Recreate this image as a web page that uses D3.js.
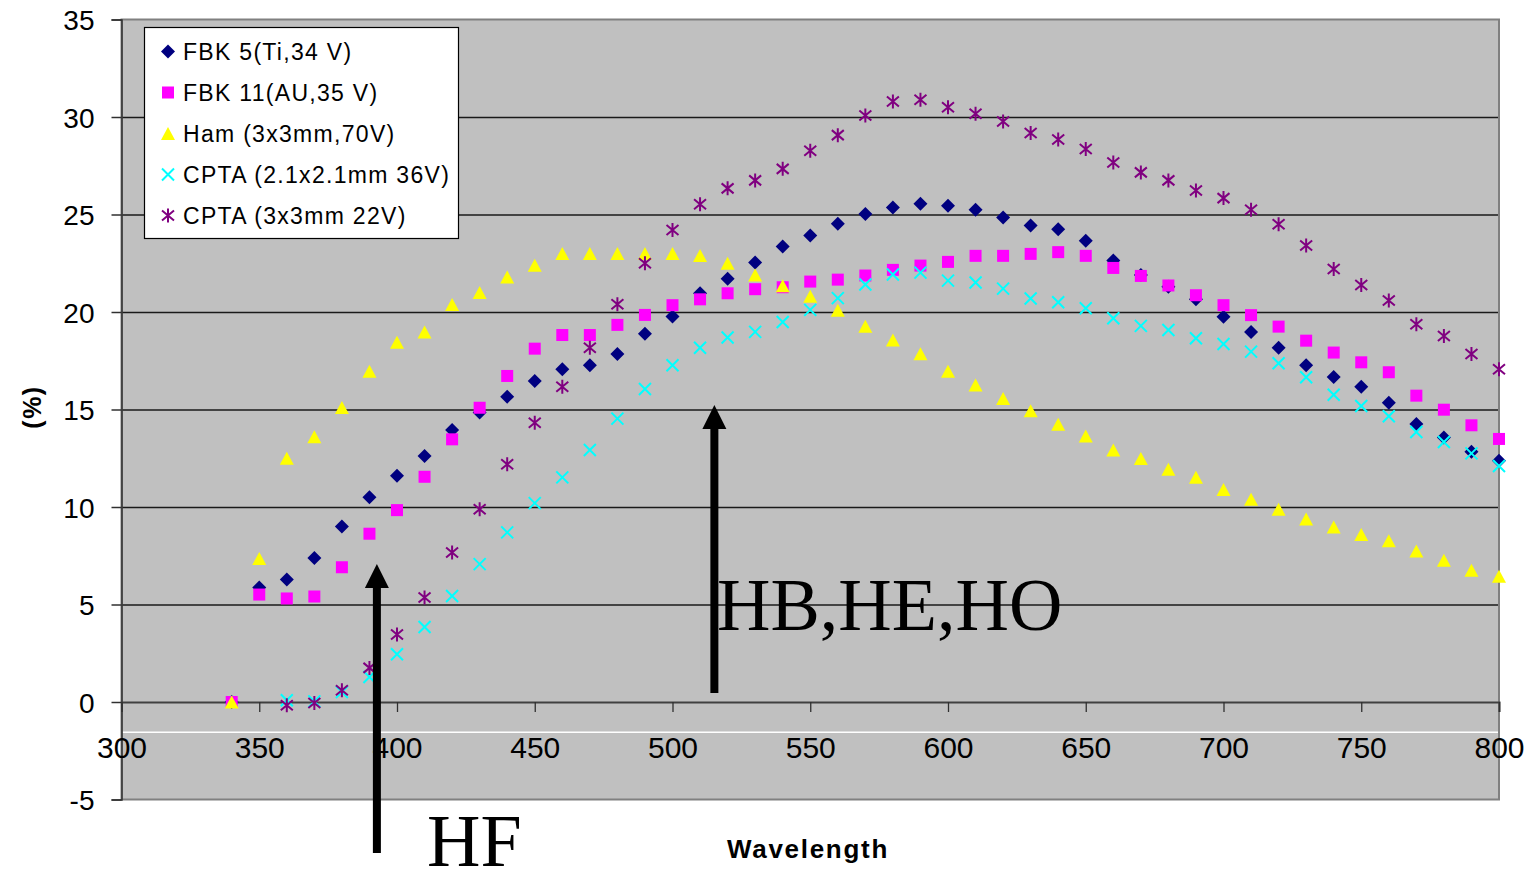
<!DOCTYPE html>
<html>
<head>
<meta charset="utf-8">
<script src="https://cdn.jsdelivr.net/npm/d3@7"></script>
<style>
  html, body { margin: 0; padding: 0; background: #ffffff; }
  svg { display: block; }
</style>
</head>
<body>
<svg id="chart" width="1532" height="870"></svg>
<script>
// Wavelength grid (nm)
const wavelengths = [340, 350, 360, 370, 380, 390, 400, 410, 420, 430, 440, 450, 460, 470, 480, 490,
  500, 510, 520, 530, 540, 550, 560, 570, 580, 590, 600, 610, 620, 630, 640, 650, 660, 670, 680, 690,
  700, 710, 720, 730, 740, 750, 760, 770, 780, 790, 800];

// Photon detection efficiency (%) per device
const fbk5 = [0, 5.87, 6.28, 7.38, 9.0, 10.5, 11.6, 12.61, 13.95, 14.84, 15.66, 16.46, 17.06, 17.27, 17.85, 18.88,
  19.77, 20.96, 21.7, 22.54, 23.36, 23.92, 24.52, 25.03, 25.36, 25.55, 25.45, 25.24, 24.85, 24.44, 24.25, 23.65,
  22.64, 21.9, 21.3, 20.66, 19.76, 18.98, 18.17, 17.27, 16.67, 16.17, 15.35, 14.26, 13.57, 12.83, 12.37];
const fbk11 = [0, 5.51, 5.31, 5.41, 6.91, 8.63, 9.84, 11.55, 13.47, 15.09, 16.72, 18.12, 18.82, 18.82, 19.34, 19.85,
  20.35, 20.65, 20.96, 21.17, 21.27, 21.56, 21.66, 21.87, 22.16, 22.38, 22.57, 22.88, 22.88, 22.98, 23.07, 22.88,
  22.26, 21.85, 21.36, 20.86, 20.35, 19.84, 19.25, 18.53, 17.92, 17.42, 16.91, 15.71, 14.99, 14.19, 13.49];
const ham = [0, 7.36, 12.5, 13.6, 15.1, 16.96, 18.45, 18.98, 20.38, 21.0, 21.8, 22.4, 23.0, 23.0, 23.0, 23.0,
  23.0, 22.9, 22.5, 21.9, 21.35, 20.81, 20.09, 19.27, 18.57, 17.86, 16.96, 16.26, 15.56, 14.94, 14.24, 13.64,
  12.92, 12.49, 11.93, 11.52, 10.9, 10.4, 9.89, 9.38, 8.98, 8.59, 8.27, 7.75, 7.27, 6.76, 6.45];
const cpta21 = [null, null, 0.09, 0.03, 0.51, 1.28, 2.45, 3.85, 5.44, 7.07, 8.7, 10.2, 11.52, 12.92, 14.53, 16.05,
  17.27, 18.17, 18.69, 18.98, 19.49, 20.11, 20.71, 21.41, 21.92, 22.02, 21.61, 21.51, 21.2, 20.69, 20.5, 20.19,
  19.68, 19.29, 19.08, 18.65, 18.36, 17.97, 17.37, 16.65, 15.76, 15.18, 14.65, 13.85, 13.33, 12.75, 12.1];
const cpta33 = [null, null, -0.17, -0.05, 0.6, 1.75, 3.46, 5.36, 7.67, 9.89, 12.19, 14.32, 16.17, 18.17, 20.4, 22.5,
  24.2, 25.53, 26.34, 26.75, 27.34, 28.27, 29.07, 30.08, 30.79, 30.89, 30.5, 30.17, 29.77, 29.18, 28.85, 28.36,
  27.67, 27.16, 26.75, 26.23, 25.84, 25.24, 24.5, 23.41, 22.21, 21.39, 20.59, 19.37, 18.77, 17.85, 17.06];

const seriesNames = ["FBK 5(Ti,34 V)", "FBK 11(AU,35 V)", "Ham (3x3mm,70V)", "CPTA (2.1x2.1mm 36V)", "CPTA (3x3mm 22V)"];
const seriesValues = [fbk5, fbk11, ham, cpta21, cpta33];

const xTicks = [300, 350, 400, 450, 500, 550, 600, 650, 700, 750, 800];
const yTicks = [-5, 0, 5, 10, 15, 20, 25, 30, 35];

const annotationLabels = ["HF", "HB,HE,HO"];
const annotationWavelengths = [392.7, 515.2];

// ---- drawing ----
const svg = d3.select("#chart");
const plotLeft = 121.5, plotRight = 1499, plotTop = 19.5, plotBottom = 799.5;

const x = d3.scaleLinear().domain([300, 800]).range([plotLeft, plotRight]);
const y = d3.scaleLinear().domain([-5, 35]).range([plotBottom, plotTop]);

// marker styles per series
const markerStyles = [
  { shape: "diamond", color: "#000080" },
  { shape: "square", color: "#FF00FF" },
  { shape: "triangle", color: "#FFFF00" },
  { shape: "cross", color: "#00FFFF" },
  { shape: "star", color: "#800080" }
];

function drawMarker(g, shape, color) {
  if (shape === "diamond") {
    g.append("path").attr("d", "M0,-7L7,0L0,7L-7,0Z").attr("fill", color);
  } else if (shape === "square") {
    g.append("rect").attr("x", -6).attr("y", -6).attr("width", 12).attr("height", 12).attr("fill", color);
  } else if (shape === "triangle") {
    g.append("path").attr("d", "M0,-6.5L7,6.5L-7,6.5Z").attr("fill", color);
  } else if (shape === "cross") {
    g.append("path").attr("d", "M-6,-6L6,6M6,-6L-6,6").attr("stroke", color).attr("stroke-width", 2).attr("fill", "none");
  } else if (shape === "star") {
    g.append("path").attr("d", "M-6,-5L6,5M6,-5L-6,5M0,-7L0,7").attr("stroke", color).attr("stroke-width", 2).attr("fill", "none");
  }
}

// plot background
svg.append("rect")
  .attr("x", plotLeft).attr("y", plotTop)
  .attr("width", plotRight - plotLeft).attr("height", plotBottom - plotTop)
  .attr("fill", "#C0C0C0");

// horizontal gridlines
svg.append("g")
  .attr("transform", `translate(${plotLeft},0)`)
  .call(d3.axisLeft(y).tickValues(yTicks.filter(v => v !== -5 && v !== 0 && v !== 35)).tickSize(-(plotRight - plotLeft)).tickFormat(""))
  .call(g => g.select(".domain").remove())
  .call(g => g.selectAll("line").attr("stroke", "#1a1a1a").attr("stroke-width", 1.3));

// thin light rule under the zero axis
svg.append("line")
  .attr("x1", plotLeft).attr("x2", plotRight)
  .attr("y1", 732.3).attr("y2", 732.3)
  .attr("stroke", "#ffffff").attr("stroke-width", 1.5);

// plot frame
svg.append("rect")
  .attr("x", plotLeft).attr("y", plotTop)
  .attr("width", plotRight - plotLeft).attr("height", plotBottom - plotTop)
  .attr("fill", "none").attr("stroke", "#808080").attr("stroke-width", 2);

// y axis
const yAxis = svg.append("g")
  .attr("transform", `translate(${plotLeft},0)`)
  .call(d3.axisLeft(y).tickValues(yTicks).tickSize(10).tickPadding(17).tickFormat(d => String(d)));
yAxis.select(".domain").attr("stroke", "#303030").attr("stroke-width", 1.5);
yAxis.selectAll("line").attr("stroke", "#303030").attr("stroke-width", 1.5);
yAxis.selectAll("text")
  .attr("font-family", "'Liberation Sans', Arial, sans-serif")
  .attr("font-size", 28).attr("fill", "#000").attr("dy", "0.36em");

// x axis at zero
const xAxis = svg.append("g")
  .attr("transform", `translate(0,${y(0)})`)
  .call(d3.axisBottom(x).tickValues(xTicks).tickSize(10).tickPadding(25).tickFormat(d => String(d)));
xAxis.select(".domain").attr("stroke", "#404040").attr("stroke-width", 2);
xAxis.selectAll("line").attr("stroke", "#303030").attr("stroke-width", 1.3);
xAxis.selectAll("text")
  .attr("font-family", "'Liberation Sans', Arial, sans-serif")
  .attr("font-size", 30).attr("fill", "#000");

// data markers, series drawn in order
seriesValues.forEach((vals, si) => {
  const pts = wavelengths.map((w, i) => ({ w, v: vals[i] })).filter(d => d.v !== null);
  const st = markerStyles[si];
  svg.append("g").selectAll("g")
    .data(pts)
    .join("g")
    .attr("transform", d => `translate(${x(d.w)},${y(d.v)})`)
    .each(function () { drawMarker(d3.select(this), st.shape, st.color); });
});

// legend
const legend = svg.append("g");
legend.append("rect")
  .attr("x", 144.5).attr("y", 27.5).attr("width", 314).attr("height", 211)
  .attr("fill", "#ffffff").attr("stroke", "#000").attr("stroke-width", 1.2);
seriesNames.forEach((name, i) => {
  const cy = 51.5 + i * 41;
  const mg = legend.append("g").attr("transform", `translate(168,${cy})`);
  drawMarker(mg, markerStyles[i].shape, markerStyles[i].color);
  legend.append("text")
    .attr("x", 183).attr("y", cy + 8)
    .attr("font-family", "'Liberation Sans', Arial, sans-serif")
    .attr("font-size", 23).attr("letter-spacing", "1.3px").attr("fill", "#000")
    .text(name);
});

// axis titles
svg.append("text")
  .attr("x", 808).attr("y", 858)
  .attr("text-anchor", "middle")
  .attr("font-family", "'Liberation Sans', Arial, sans-serif")
  .attr("font-weight", "bold").attr("font-size", 26).attr("letter-spacing", "1.7px")
  .text("Wavelength");
svg.append("text")
  .attr("transform", "translate(41,407) rotate(-90)")
  .attr("text-anchor", "middle")
  .attr("font-family", "'Liberation Sans', Arial, sans-serif")
  .attr("font-weight", "bold").attr("font-size", 25).attr("letter-spacing", "1.5px")
  .text("(%)");

// annotation arrows
function arrow(xPos, yTip, yEnd) {
  const g = svg.append("g");
  g.append("rect").attr("x", xPos - 4).attr("y", yTip + 22).attr("width", 8).attr("height", yEnd - yTip - 22).attr("fill", "#000");
  g.append("path").attr("d", `M${xPos},${yTip}L${xPos + 12},${yTip + 24}L${xPos - 12},${yTip + 24}Z`).attr("fill", "#000");
}
const xHF = x(annotationWavelengths[0]);
const xHB = x(annotationWavelengths[1]);
arrow(xHF, 564, 853);
arrow(xHB, 405, 693);

svg.append("text")
  .attr("x", 427).attr("y", 866)
  .attr("font-family", "'Liberation Serif', 'Times New Roman', serif")
  .attr("font-size", 74).attr("fill", "#000")
  .text(annotationLabels[0]);
svg.append("text")
  .attr("x", 717).attr("y", 630)
  .attr("font-family", "'Liberation Serif', 'Times New Roman', serif")
  .attr("font-size", 74).attr("fill", "#000")
  .text(annotationLabels[1]);
</script>
</body>
</html>
